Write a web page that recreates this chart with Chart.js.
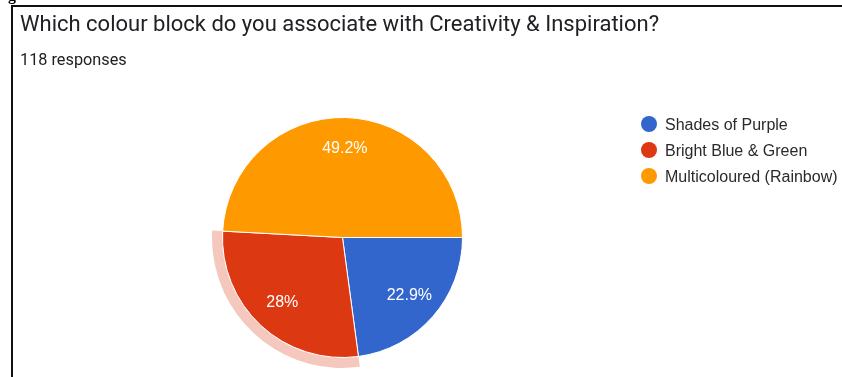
<!DOCTYPE html>
<html>
<head>
<meta charset="utf-8">
<script src="https://cdn.jsdelivr.net/npm/chart.js@4/dist/chart.umd.min.js"></script>
<style>
  html, body { margin: 0; padding: 0; background: #fff; }
  #wrap { position: relative; width: 842px; height: 377px; overflow: hidden; }
  #chart { position: absolute; left: 0; top: 0; }
  #frame { position: absolute; left: 11px; top: 5px; width: 840px; height: 380px;
           border-top: 2px solid #111; border-left: 2px solid #111; }
  #fig { position: absolute; left: 8px; top: -13px; font: bold 16px "Liberation Serif", serif; line-height: 16px; color: #000; }
  #title { position: absolute; left: 20px; top: 11px; font: 22px Roboto, sans-serif; color: #202124; white-space: nowrap; }
  #sub { position: absolute; left: 20px; top: 50px; font: 16.3px Roboto, sans-serif; color: #202124; white-space: nowrap; }
  #legend { position: absolute; left: 641px; top: 115px; font: 16px "Liberation Sans", Arial, sans-serif; color: #2a2a2a; }
  #legend div { height: 26px; line-height: 20px; white-space: nowrap; }
  #legend span.dot { display: inline-block; width: 16px; height: 16px; border-radius: 50%;
                     vertical-align: -2px; margin-right: 8px; }
</style>
</head>
<body>
<div id="wrap">
  <canvas id="chart" width="842" height="377"></canvas>
  <div id="frame"></div>
  <div id="fig">g</div>
  <div id="title">Which colour block do you associate with Creativity &amp; Inspiration?</div>
  <div id="sub">118 responses</div>
  <div id="legend"></div>
</div>
<script>
// answers to the question
const categories = ['Shades of Purple', 'Bright Blue & Green', 'Multicoloured (Rainbow)'];
const responses = [27, 33, 58];
const sliceColors = ['#3366cc', '#dc3912', '#ff9900'];
const highlighted = 1; // the slice with the hover ring

const total = responses.reduce((s, v) => s + v, 0);

// legend in html
const legendEl = document.getElementById('legend');
categories.forEach((name, i) => {
    const row = document.createElement('div');
    const dot = document.createElement('span');
    dot.className = 'dot';
    dot.style.background = sliceColors[i];
    row.appendChild(dot);
    row.appendChild(document.createTextNode(name));
    legendEl.appendChild(row);
});

// percentage labels inside the slices
const sliceLabels = {
    id: 'sliceLabels',
    afterDatasetsDraw(chart) {
        const ctx = chart.ctx;
        const meta = chart.getDatasetMeta(0);
        ctx.save();
        ctx.font = '16px "Liberation Sans", Arial, sans-serif';
        ctx.fillStyle = '#ffffff';
        ctx.textAlign = 'center';
        ctx.textBaseline = 'middle';
        meta.data.forEach((arc, i) => {
            const p = arc.getProps(['x', 'y', 'startAngle', 'endAngle', 'outerRadius'], true);
            const mid = (p.startAngle + p.endAngle) / 2;
            const r = p.outerRadius * 0.74;
            const pct = Math.round(responses[i] / total * 1000) / 10;
            ctx.fillText(pct + '%', p.x + Math.cos(mid) * r, p.y + Math.sin(mid) * r);
        });
        ctx.restore();
    }
};

// light ring outside the highlighted slice
const hoverRing = {
    id: 'hoverRing',
    afterDatasetsDraw(chart) {
        const arc = chart.getDatasetMeta(0).data[highlighted];
        if (!arc) return;
        const p = arc.getProps(['x', 'y', 'startAngle', 'endAngle', 'outerRadius'], true);
        const ctx = chart.ctx;
        ctx.save();
        ctx.beginPath();
        ctx.arc(p.x, p.y, p.outerRadius + 10.5, p.startAngle, p.endAngle);
        ctx.arc(p.x, p.y, p.outerRadius + 0.5, p.endAngle, p.startAngle, true);
        ctx.closePath();
        ctx.fillStyle = 'rgba(220, 57, 18, 0.28)';
        ctx.fill();
        ctx.restore();
    }
};

new Chart(document.getElementById('chart'), {
    type: 'pie',
    data: {
        labels: categories,
        datasets: [{
            data: responses,
            backgroundColor: sliceColors,
            borderColor: '#ffffff',
            borderWidth: 1,
            hoverOffset: 0,
            offset: 0
        }]
    },
    options: {
        responsive: false,
        animation: false,
        rotation: 90,
        layout: { padding: { left: 222, top: 117, right: 379, bottom: 19 } },
        plugins: {
            legend: { display: false },
            tooltip: { enabled: false }
        },
        events: []
    },
    plugins: [hoverRing, sliceLabels]
});
</script>
</body>
</html>
